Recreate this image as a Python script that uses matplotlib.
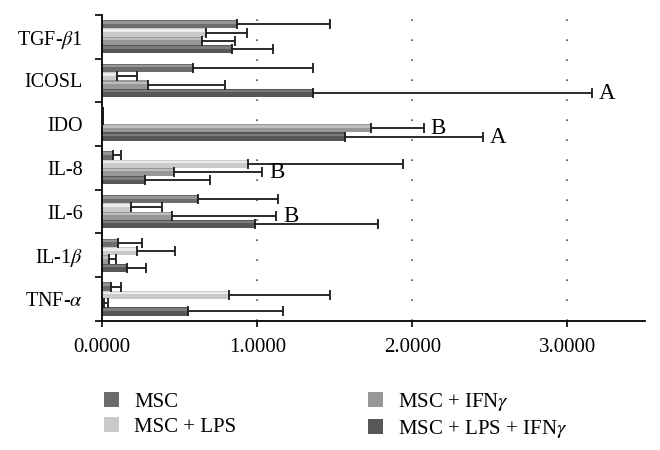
import numpy as np
import matplotlib
matplotlib.use("Agg")
import matplotlib.pyplot as plt
from matplotlib.patches import Patch

plt.rcParams['font.family'] = ['Liberation Serif', 'DejaVu Serif']
plt.rcParams['mathtext.fontset'] = 'stix'

categories = ['TGF-$\\beta$1', 'ICOSL', 'IDO', 'IL-8', 'IL-6', 'IL-1$\\beta$', 'TNF-$\\alpha$']
series = ['MSC', 'MSC + LPS', 'MSC + IFN$\\gamma$', 'MSC + LPS + IFN$\\gamma$']

msc        = [0.870, 0.585, 0.006, 0.069, 0.617, 0.101, 0.059]
msc_lps    = [0.668, 0.096, 0.004, 0.937, 0.183, 0.226, 0.817]
msc_ifn    = [0.642, 0.296, 1.732, 0.460, 0.452, 0.044, 0.012]
msc_lpsifn = [0.838, 1.358, 1.565, 0.274, 0.986, 0.159, 0.556]

msc_err        = [0.597, 0.773, 0.000, 0.054, 0.516, 0.157, 0.060]
msc_lps_err    = [0.267, 0.131, 0.000, 1.003, 0.205, 0.241, 0.652]
msc_ifn_err    = [0.212, 0.494, 0.342, 0.573, 0.668, 0.043, 0.023]
msc_lpsifn_err = [0.262, 1.802, 0.893, 0.422, 0.791, 0.126, 0.609]

# significance letters: (category index, series index, letter)
letters = [(1, 3, 'A'), (2, 2, 'B'), (2, 3, 'A'), (3, 2, 'B'), (4, 2, 'B')]

values = [msc, msc_lps, msc_ifn, msc_lpsifn]
errors = [msc_err, msc_lps_err, msc_ifn_err, msc_lpsifn_err]
colors = ['#6c6c6c', '#cacaca', '#979797', '#575757']
highlights = ['#959595', '#ebebeb', '#bdbdbd', '#7c7c7c']

fig = plt.figure(figsize=(6.6, 4.5), dpi=100)
ax = fig.add_axes([0.155, 0.287, 0.822, 0.68])

n = len(categories)
pos = np.arange(n)
h = 0.19
offsets = [-1.5 * h, -0.5 * h, 0.5 * h, 1.5 * h]

for s in range(4):
    y = pos + offsets[s]
    ax.barh(y, values[s], height=h, color=colors[s], edgecolor='none', zorder=2)
    ax.barh(y - h * 0.22, values[s], height=h * 0.3, color=highlights[s],
            edgecolor='none', zorder=2)
    ax.errorbar(np.array(values[s]), y,
                xerr=[np.zeros(n), np.array(errors[s])],
                fmt='none', ecolor='#1a1a1a', elinewidth=1.3, capsize=3.3,
                capthick=1.3, zorder=3)

for ci, si, letter in letters:
    xend = values[si][ci] + errors[si][ci]
    ax.text(xend + 0.045, pos[ci] + offsets[si] + 0.01, letter, fontsize=16.5,
            va='center', ha='left')

ax.set_xlim(0, 3.5)
ax.set_ylim(n - 0.5, -0.5)
ax.set_xticks([0, 1, 2, 3])
ax.set_xticklabels(['0.0000', '1.0000', '2.0000', '3.0000'], fontsize=15)
ax.set_yticks(pos)
ax.set_yticklabels(categories, fontsize=14.5)
ax.set_yticks(np.arange(n + 1) - 0.5, minor=True)
ax.tick_params(axis='y', which='major', length=0, pad=14)
ax.tick_params(axis='y', which='minor', length=5, width=1.2, direction='out')
ax.tick_params(axis='x', which='major', length=4, width=1.2, direction='out', pad=8)

for xv in [1, 2, 3]:
    ax.axvline(xv, color='#555555', linestyle=(0, (1, 11)), linewidth=1.2, zorder=1)

ax.spines['top'].set_visible(False)
ax.spines['right'].set_visible(False)
ax.spines['left'].set_linewidth(1.3)
ax.spines['bottom'].set_linewidth(1.3)

handles = [Patch(facecolor=colors[i], edgecolor='none') for i in range(4)]
fig.legend(handles, series, loc='lower left', bbox_to_anchor=(0.138, -0.005),
           ncol=2, frameon=False, fontsize=15, columnspacing=6.3,
           handlelength=0.75, handleheight=0.75, handletextpad=0.72, labelspacing=0.25,
           borderaxespad=0.2)

fig.savefig('out.png', dpi=100)
